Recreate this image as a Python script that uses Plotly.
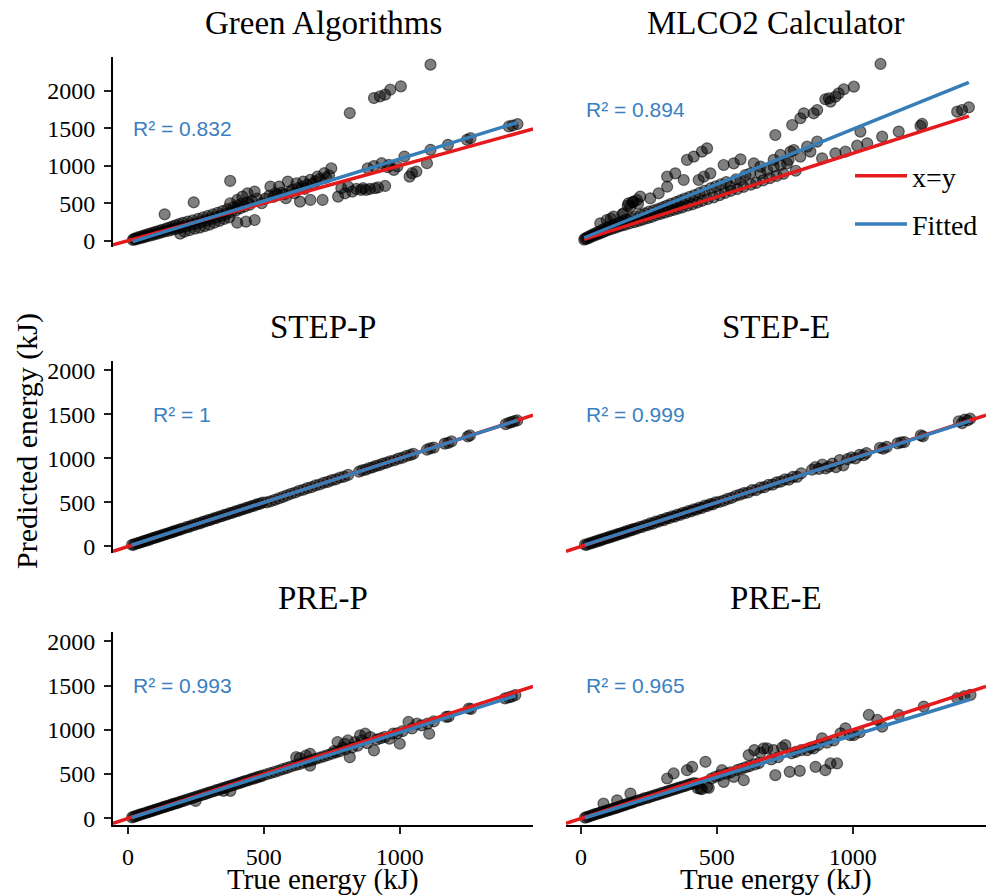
import plotly.graph_objects as go

# ---------------- data ----------------
panel_titles = ["Green Algorithms", "MLCO2 Calculator", "STEP-P", "STEP-E", "PRE-P", "PRE-E"]
r2_labels = ["R² = 0.832", "R² = 0.894", "R² = 1", "R² = 0.999", "R² = 0.993", "R² = 0.965"]
fit_slopes = [1.123, 1.26, 0.998, 0.993, 0.975, 0.944]
fit_intercepts = [-33, 16, 1, 3, -5, -7]
x_ticks = [0, 500, 1000]
y_ticks = [0, 500, 1000, 1500, 2000]

green_true = [18, 22, 28, 33, 38, 44, 50, 55, 60, 66,
              72, 78, 84, 90, 96, 102, 108, 114, 120, 126,
              132, 135, 140, 146, 152, 158, 164, 170, 176, 182,
              188, 192, 196, 202, 208, 214, 220, 226, 232, 238,
              242, 246, 252, 258, 264, 270, 276, 282, 288, 294,
              300, 306, 312, 318, 324, 330, 336, 342, 348, 354,
              360, 366, 372, 376, 376, 380, 388, 396, 402, 402,
              404, 412, 420, 421, 428, 434, 440, 440, 448, 456,
              466, 466, 476, 492, 505, 520, 524, 535, 543, 550,
              556, 565, 575, 581, 588, 595, 605, 613, 620, 625,
              633, 640, 645, 650, 660, 671, 671, 680, 690, 697,
              705, 716, 722, 730, 740, 748, 773, 785, 799, 810,
              816, 825, 840, 857, 865, 876, 882, 890, 905, 905,
              908, 920, 927, 933, 946, 946, 955, 960, 965, 978,
              991, 1004, 1017, 1036, 1045, 1061, 1100, 1113, 1113, 1177,
              1247, 1260, 1401, 1415, 1433]
green_pred = [10, 25, 18, 40, 28, 52, 38, 65, 48, 78,
              60, 92, 70, 105, 82, 118, 95, 130, 108, 145,
              120, 352, 160, 130, 175, 142, 190, 155, 205, 165,
              220, 95, 180, 238, 120, 195, 255, 140, 212, 270,
              512, 160, 228, 290, 175, 248, 310, 195, 270, 330,
              215, 290, 350, 240, 310, 372, 265, 330, 395, 290,
              355, 420, 310, 797, 499, 380, 445, 400, 240, 543,
              470, 430, 495, 588, 455, 254, 632, 510, 480, 530,
              276, 655, 560, 499, 560, 600, 722, 585, 632, 610,
              722, 640, 620, 566, 788, 650, 680, 632, 766, 700,
              521, 720, 788, 690, 745, 811, 543, 760, 790, 855,
              820, 543, 900, 840, 870, 966, 588, 700, 632, 720,
              1702, 655, 690, 677, 700, 677, 966, 690, 1902, 995,
              699, 710, 1924, 1033, 730, 1947, 980, 1010, 2013, 944,
              989, 2058, 1122, 855, 900, 922, 1033, 1212, 2347, 1278,
              1345, 1367, 1523, 1535, 1555]

mlco2_true = [12, 16, 20, 25, 30, 35, 40, 45, 50, 55,
              60, 65, 70, 71, 75, 80, 85, 90, 95, 96,
              100, 105, 110, 112, 118, 120, 124, 130, 136, 142,
              148, 152, 155, 157, 162, 168, 172, 175, 178, 182,
              185, 190, 194, 196, 200, 206, 210, 212, 218, 220,
              228, 235, 244, 250, 255, 260, 268, 276, 284, 286,
              292, 300, 308, 316, 317, 317, 324, 332, 340, 347,
              350, 356, 366, 372, 378, 382, 390, 392, 400, 410,
              415, 418, 428, 433, 436, 445, 446, 452, 455, 464,
              466, 476, 478, 488, 496, 510, 515, 525, 530, 535,
              550, 552, 562, 570, 575, 587, 587, 598, 605, 623,
              625, 636, 645, 660, 660, 670, 685, 695, 709, 709,
              715, 720, 734, 734, 745, 758, 764, 771, 777, 783,
              790, 807, 807, 820, 832, 844, 856, 869, 869, 887,
              899, 912, 918, 936, 936, 948, 967, 973, 1004, 1016,
              1028, 1053, 1102, 1108, 1169, 1249, 1255, 1384, 1402, 1427]
mlco2_pred = [10, 25, 18, 40, 30, 55, 45, 70, 58, 85,
              70, 100, 82, 197, 115, 95, 130, 108, 235, 145,
              120, 160, 250, 132, 175, 274, 145, 190, 158, 205,
              170, 300, 222, 312, 180, 240, 400, 426, 195, 388,
              258, 440, 446, 210, 275, 465, 420, 225, 503, 295,
              240, 310, 255, 330, 484, 270, 345, 290, 360, 541,
              305, 380, 320, 400, 617, 732, 335, 420, 350, 770,
              440, 365, 460, 380, 694, 480, 924, 400, 500, 415,
              962, 520, 435, 694, 545, 1019, 455, 732, 570, 1057,
              475, 770, 600, 495, 620, 520, 645, 866, 545, 670,
              617, 570, 885, 700, 590, 694, 931, 615, 750, 770,
              640, 885, 660, 847, 770, 690, 809, 715, 847, 924,
              1210, 740, 981, 866, 765, 885, 924, 1019, 1325, 1038,
              800, 962, 1402, 1459, 1076, 1019, 1459, 1134, 1497, 943,
              1620, 1631, 1593, 1000, 1650, 1688, 1735, 1019, 1765, 1088,
              1249, 1115, 2025, 1191, 1249, 1314, 1337, 1478, 1497, 1528]

step_true = [15, 22, 30, 38, 45, 52, 60, 68, 75, 82,
             90, 98, 105, 112, 120, 128, 135, 142, 150, 158,
             165, 172, 180, 188, 195, 205, 215, 225, 235, 245,
             255, 265, 275, 285, 295, 305, 315, 325, 335, 345,
             355, 365, 375, 385, 395, 405, 415, 425, 435, 445,
             455, 465, 475, 485, 495, 510, 525, 540, 555, 570,
             585, 600, 615, 630, 645, 660, 675, 690, 705, 720,
             735, 750, 765, 780, 795, 810, 850, 862, 875, 888,
             900, 912, 925, 938, 952, 965, 980, 995, 1010, 1025,
             1040, 1050, 1100, 1112, 1125, 1165, 1178, 1190, 1250, 1258,
             1390, 1402, 1412, 1422, 1432]
stepp_pred = [18, 20, 33, 36, 47, 50, 63, 66, 77, 80,
              93, 96, 108, 110, 122, 126, 138, 140, 152, 156,
              168, 170, 183, 186, 198, 203, 218, 222, 238, 243,
              258, 262, 278, 283, 298, 302, 318, 322, 338, 342,
              358, 362, 378, 382, 398, 402, 418, 422, 438, 442,
              458, 462, 478, 482, 498, 500, 512, 528, 545, 562,
              580, 598, 612, 632, 643, 662, 672, 692, 703, 722,
              733, 752, 762, 782, 792, 812, 848, 864, 872, 890,
              898, 914, 922, 940, 950, 967, 978, 997, 1007, 1027,
              1038, 1052, 1098, 1114, 1122, 1167, 1175, 1192, 1248, 1260,
              1388, 1404, 1410, 1424, 1430]
stepe_pred = [20, 18, 35, 34, 50, 48, 65, 63, 80, 78,
              95, 93, 110, 108, 125, 123, 140, 138, 155, 153,
              172, 168, 186, 184, 200, 202, 220, 220, 240, 240,
              262, 258, 282, 280, 302, 298, 322, 320, 342, 338,
              362, 358, 382, 378, 402, 398, 420, 418, 440, 436,
              462, 458, 480, 476, 500, 505, 520, 540, 552, 575,
              588, 605, 612, 640, 640, 668, 672, 700, 702, 728,
              735, 760, 758, 790, 790, 830, 870, 900, 880, 930,
              885, 905, 940, 900, 980, 920, 990, 1010, 1000, 1040,
              1035, 1060, 1120, 1110, 1130, 1170, 1180, 1185, 1260, 1250,
              1420, 1400, 1440, 1430, 1450]

prep_true = [15, 22, 30, 38, 45, 52, 60, 68, 75, 82,
             90, 98, 105, 112, 120, 128, 135, 142, 150, 158,
             165, 172, 180, 188, 195, 205, 215, 225, 235, 245,
             249, 255, 265, 275, 285, 295, 305, 315, 325, 335,
             345, 352, 355, 365, 375, 377, 385, 395, 405, 415,
             425, 435, 445, 455, 465, 475, 485, 495, 510, 525,
             540, 555, 570, 585, 600, 615, 619, 630, 632, 645,
             655, 660, 670, 670, 675, 690, 705, 720, 735, 750,
             758, 765, 771, 780, 790, 797, 800, 809, 816, 825,
             835, 845, 854, 860, 873, 880, 892, 905, 915, 930,
             945, 962, 975, 990, 1000, 1010, 1032, 1045, 1063, 1080,
             1102, 1108, 1125, 1171, 1180, 1254, 1262, 1387, 1400, 1412,
             1425]
prep_pred = [10, 20, 25, 36, 42, 50, 55, 66, 70, 80,
             85, 95, 100, 108, 115, 125, 130, 138, 145, 152,
             160, 168, 172, 182, 190, 198, 210, 218, 228, 238,
             197, 250, 258, 268, 276, 288, 298, 306, 318, 325,
             338, 311, 345, 356, 365, 311, 375, 385, 395, 404,
             415, 425, 433, 445, 452, 464, 472, 483, 498, 512,
             525, 540, 556, 570, 586, 600, 691, 612, 680, 628,
             710, 642, 596, 729, 655, 672, 686, 700, 715, 730,
             760, 745, 862, 760, 800, 843, 778, 880, 691, 800,
             860, 820, 937, 880, 956, 850, 918, 767, 890, 905,
             920, 899, 956, 960, 843, 985, 1089, 1015, 1070, 1050,
             1070, 956, 1095, 1146, 1150, 1241, 1235, 1355, 1365, 1375,
             1393]

pree_true = [15, 22, 30, 38, 45, 52, 60, 68, 75, 83,
             83, 90, 98, 105, 112, 120, 128, 133, 135, 142,
             150, 158, 165, 172, 180, 182, 188, 195, 205, 215,
             225, 235, 245, 255, 265, 275, 285, 295, 305, 315,
             317, 325, 335, 341, 345, 355, 365, 375, 385, 390,
             395, 405, 409, 415, 427, 430, 439, 445, 458, 464,
             470, 480, 495, 510, 519, 525, 535, 550, 562, 575,
             590, 599, 605, 617, 620, 638, 640, 655, 660, 672,
             685, 700, 709, 715, 725, 740, 752, 768, 775, 790,
             805, 810, 832, 845, 856, 863, 874, 887, 899, 905,
             918, 930, 942, 955, 973, 990, 1004, 1025, 1059, 1090,
             1108, 1169, 1261, 1384, 1410, 1433]
pree_pred = [8, 15, 22, 32, 38, 48, 52, 62, 68, 166,
             75, 82, 90, 95, 104, 110, 118, 204, 125, 132,
             140, 150, 155, 165, 170, 280, 178, 185, 198, 205,
             215, 228, 232, 245, 252, 265, 270, 285, 290, 302,
             450, 310, 322, 507, 330, 342, 350, 360, 368, 544,
             380, 388, 582, 398, 393, 340, 336, 330, 639, 355,
             345, 450, 470, 485, 544, 412, 505, 520, 469, 545,
             560, 431, 575, 715, 590, 771, 610, 625, 740, 790,
             790, 665, 771, 488, 690, 800, 828, 526, 735, 750,
             537, 770, 771, 800, 790, 582, 828, 904, 544, 855,
             620, 880, 620, 960, 1017, 940, 941, 970, 1168, 1112,
             1036, 1168, 1263, 1357, 1380, 1395]

panel_true = [green_true, mlco2_true, step_true, step_true, prep_true, pree_true]
panel_pred = [green_pred, mlco2_pred, stepp_pred, stepe_pred, prep_pred, pree_pred]
identity_full_span = [True, False, True, True, True, True]

for a, b in zip(panel_true, panel_pred):
    assert len(a) == len(b), (len(a), len(b))

# ---------------- layout helpers ----------------
W, H = 986, 896
x_range = [-55, 1490]
y_ranges = [[-84, 2449], [-75, 2105], [-75, 2105], [-75, 2105], [-75, 2105], [-75, 2105]]
col_dom = [[113 / W, 533 / W], [566 / W, 1.0]]
row_dom = [[1 - 247 / H, 1 - 57 / H], [1 - 553 / H, 1 - 361 / H], [1 - 825 / H, 1 - 632 / H]]

SERIF = "Liberation Serif"
SANS = "Liberation Sans"
RED = "#e41a1c"
BLUE = "#377eb8"

fig = go.Figure()
annotations = []

for i in range(6):
    r, c = divmod(i, 2)
    xa = "x" if i == 0 else f"x{i+1}"
    ya = "y" if i == 0 else f"y{i+1}"
    xs = panel_true[i]
    ys = panel_pred[i]

    fig.add_trace(go.Scatter(
        x=xs, y=ys, mode="markers", xaxis=xa, yaxis=ya, showlegend=False,
        marker=dict(size=11, color="rgba(0,0,0,0.5)",
                    line=dict(width=1.2, color="rgba(0,0,0,0.55)")),
        hoverinfo="skip"))

    if identity_full_span[i]:
        ix = list(x_range)
    else:
        ix = [min(xs), max(xs)]
    fig.add_trace(go.Scatter(
        x=ix, y=ix, mode="lines", xaxis=xa, yaxis=ya,
        line=dict(color=RED, width=3.5), name="x=y",
        legendgroup="g1", showlegend=(i == 1)))

    fx = [min(xs), max(xs)]
    fy = [fit_slopes[i] * v + fit_intercepts[i] for v in fx]
    fig.add_trace(go.Scatter(
        x=fx, y=fy, mode="lines", xaxis=xa, yaxis=ya,
        line=dict(color=BLUE, width=3.5), name="Fitted",
        legendgroup="g2", showlegend=(i == 1)))

    bottom = (r == 2)
    left = (c == 0)
    xkey = "xaxis" if i == 0 else f"xaxis{i+1}"
    ykey = "yaxis" if i == 0 else f"yaxis{i+1}"
    fig.layout[xkey] = dict(
        domain=col_dom[c], anchor=ya, range=x_range, showgrid=False, zeroline=False,
        automargin=False,
        showline=bottom, linecolor="black", linewidth=2,
        ticks="outside" if bottom else "", ticklen=7, tickwidth=2, tickcolor="#222",
        tickvals=x_ticks, showticklabels=bottom, ticklabelstandoff=2,
        tickfont=dict(family=SERIF, size=24, color="black"))
    fig.layout[ykey] = dict(
        domain=row_dom[r], anchor=xa, range=y_ranges[i], showgrid=False, zeroline=False,
        automargin=False,
        showline=left, linecolor="black", linewidth=2,
        ticks="outside" if left else "", ticklen=7, tickwidth=2, tickcolor="#222",
        tickvals=y_ticks, showticklabels=left, ticklabelstandoff=4,
        tickfont=dict(family=SERIF, size=24, color="black"))

    # subplot title
    annotations.append(dict(
        text=panel_titles[i], xref="paper", yref="paper",
        x=(col_dom[c][0] + col_dom[c][1]) / 2, y=row_dom[r][1],
        xanchor="center", yanchor="bottom", yshift=14, showarrow=False,
        font=dict(family=SERIF, size=33, color="black")))
    # R² label
    annotations.append(dict(
        text=r2_labels[i], xref=xa, yref=ya, x=200, y=1500,
        xanchor="center", yanchor="middle", showarrow=False,
        font=dict(family=SANS, size=21, color="#3a7fc1")))

# axis titles
for c in range(2):
    annotations.append(dict(
        text="True energy (kJ)", xref="paper", yref="paper",
        x=(col_dom[c][0] + col_dom[c][1]) / 2, y=1 - 879 / H,
        xanchor="center", yanchor="middle", showarrow=False,
        font=dict(family=SERIF, size=29, color="black")))
annotations.append(dict(
    text="Predicted energy (kJ)", xref="paper", yref="paper",
    x=27 / W, y=1 - 441 / H, textangle=-90,
    xanchor="center", yanchor="middle", showarrow=False,
    font=dict(family=SERIF, size=30, color="black")))

fig.update_layout(
    width=W, height=H, autosize=False,
    margin=dict(l=0, r=0, t=0, b=0),
    paper_bgcolor="white", plot_bgcolor="white",
    annotations=annotations,
    legend=dict(x=850 / W, y=1 - 151 / H, xanchor="left", yanchor="top",
                bgcolor="rgba(0,0,0,0)", borderwidth=0,
                font=dict(family=SERIF, size=28, color="black"),
                tracegroupgap=9, traceorder="grouped", itemwidth=52),
)

fig.write_html("out.html", config={"displayModeBar": False},
               post_script="document.body.style.margin='0px';document.body.style.overflow='hidden';")
